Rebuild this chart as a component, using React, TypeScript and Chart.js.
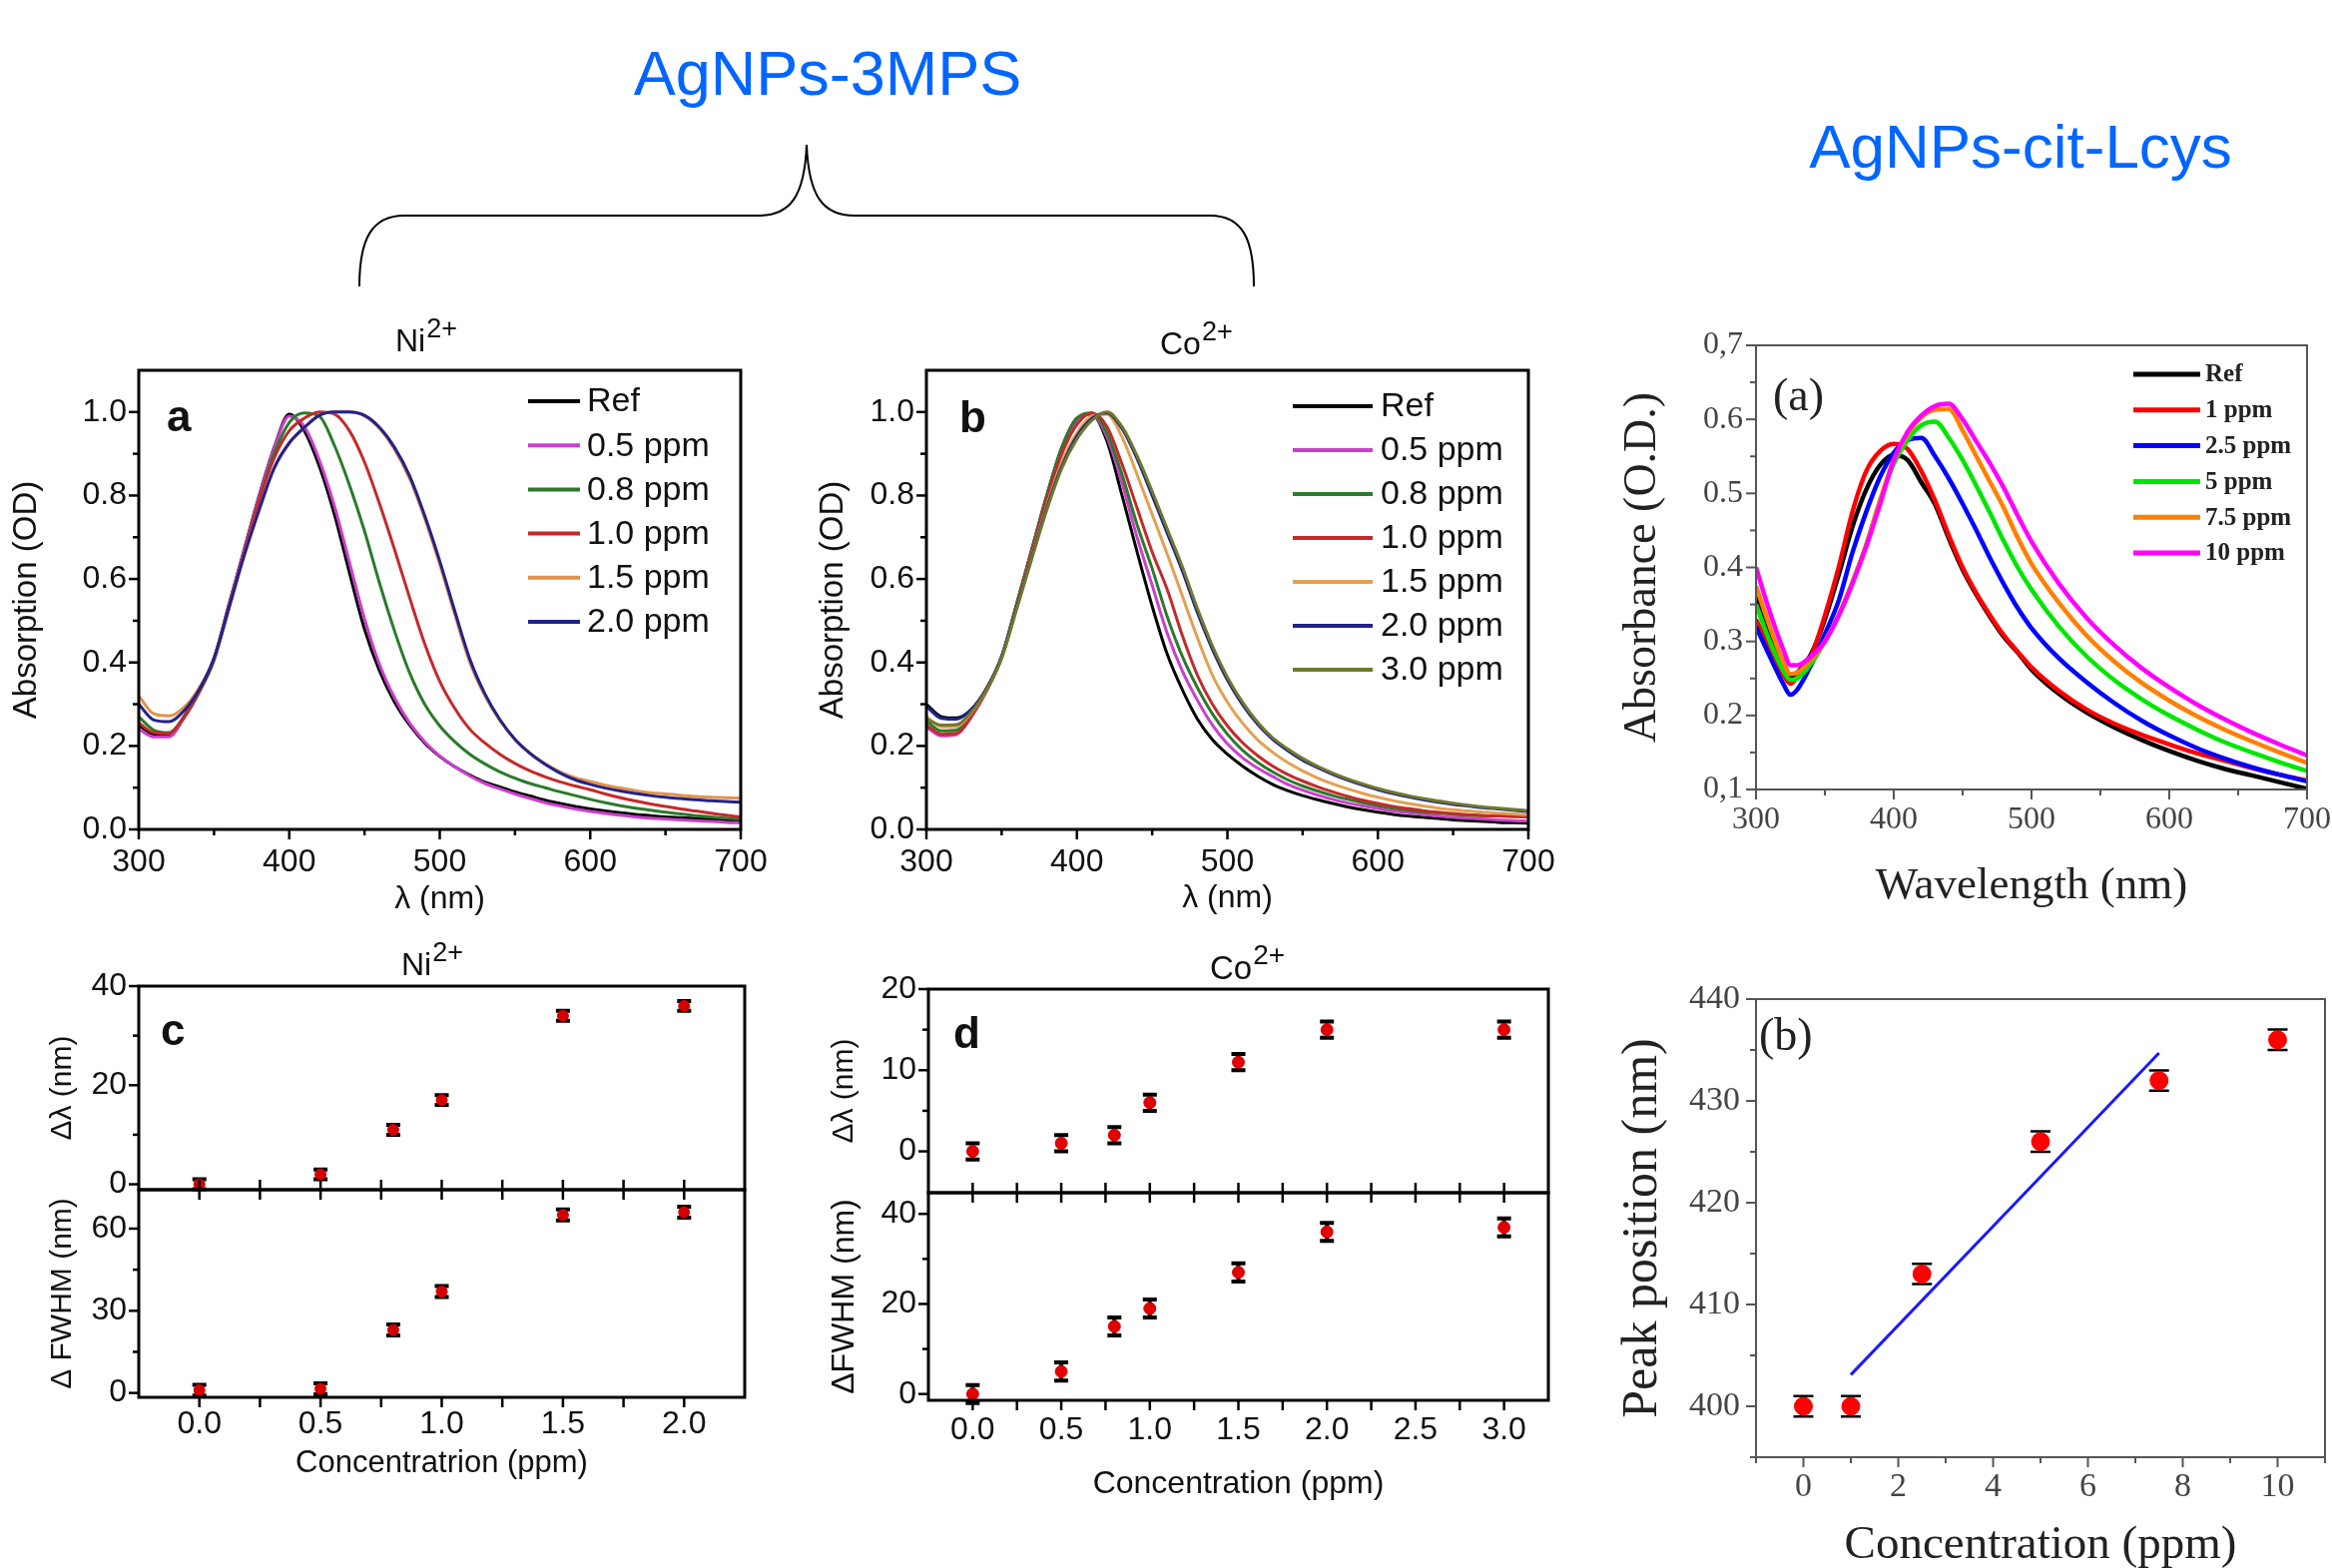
import React, { useEffect, useRef } from 'react';
import { Chart, registerables } from 'chart.js';

Chart.register(...registerables);

const SANS = '"Liberation Sans", Arial, sans-serif';
const SERIF = '"Liberation Serif", "Times New Roman", serif';
Chart.defaults.font.family = SANS;

// ---------------- data: panel a (Ni2+) and b (Co2+) ----------------
const WL = [300, 310, 320, 330, 340, 350, 360, 370, 380, 390, 400, 410, 420, 430, 440, 450, 460, 470, 480, 490, 500,
  510, 520, 530, 540, 550, 560, 570, 580, 590, 600, 610, 620, 630, 640, 650, 660, 670, 680, 690, 700];

const NI_REF = [0.25, 0.228, 0.226, 0.27, 0.33, 0.41, 0.54, 0.67, 0.8, 0.915, 0.995, 0.955, 0.87, 0.755, 0.615, 0.48, 0.38, 0.305, 0.25, 0.207, 0.175,
  0.15, 0.13, 0.113, 0.102, 0.09, 0.08, 0.07, 0.062, 0.055, 0.049, 0.044, 0.04, 0.036, 0.033, 0.03, 0.028, 0.026, 0.024, 0.022, 0.02];
const NI_05 = [0.24, 0.222, 0.222, 0.266, 0.328, 0.408, 0.538, 0.668, 0.798, 0.913, 0.99, 0.965, 0.885, 0.775, 0.64, 0.505, 0.395, 0.315, 0.255, 0.21, 0.176,
  0.15, 0.128, 0.11, 0.097, 0.085, 0.074, 0.064, 0.056, 0.049, 0.043, 0.038, 0.034, 0.03, 0.027, 0.025, 0.023, 0.021, 0.019, 0.017, 0.016];
const NI_08 = [0.27, 0.238, 0.232, 0.268, 0.328, 0.405, 0.532, 0.66, 0.788, 0.9, 0.975, 0.998, 0.99, 0.92, 0.825, 0.715, 0.59, 0.475, 0.375, 0.3, 0.248,
  0.21, 0.18, 0.157, 0.138, 0.123, 0.11, 0.1, 0.09, 0.081, 0.072, 0.064, 0.057, 0.051, 0.046, 0.041, 0.037, 0.033, 0.03, 0.027, 0.025];
const NI_10 = [0.255, 0.232, 0.23, 0.27, 0.33, 0.408, 0.535, 0.662, 0.788, 0.89, 0.955, 0.985, 1.0, 0.995, 0.955, 0.88, 0.78, 0.67, 0.555, 0.445, 0.355,
  0.29, 0.24, 0.207, 0.18, 0.158, 0.14, 0.126, 0.114, 0.104, 0.095, 0.085, 0.076, 0.068, 0.061, 0.055, 0.049, 0.044, 0.039, 0.034, 0.03];
const NI_15 = [0.32, 0.277, 0.272, 0.292, 0.338, 0.41, 0.53, 0.655, 0.765, 0.865, 0.925, 0.962, 0.992, 1.0, 1.0, 0.99, 0.96, 0.91, 0.84, 0.745, 0.635,
  0.515, 0.4, 0.32, 0.26, 0.215, 0.183, 0.158, 0.138, 0.124, 0.115, 0.106, 0.099, 0.093, 0.088, 0.085, 0.082, 0.079, 0.077, 0.076, 0.075];
const NI_20 = [0.3, 0.262, 0.258, 0.284, 0.334, 0.41, 0.532, 0.656, 0.766, 0.866, 0.926, 0.963, 0.992, 1.0, 1.0, 0.992, 0.963, 0.915, 0.847, 0.752, 0.643,
  0.523, 0.408, 0.325, 0.263, 0.216, 0.182, 0.156, 0.135, 0.119, 0.108, 0.099, 0.092, 0.086, 0.081, 0.077, 0.074, 0.071, 0.069, 0.067, 0.065];

const CO_REF = [0.3, 0.27, 0.267, 0.288, 0.338, 0.415, 0.54, 0.67, 0.8, 0.915, 0.985, 0.995, 0.93, 0.8, 0.665, 0.535, 0.42, 0.335, 0.265, 0.215, 0.18,
  0.152, 0.128, 0.108, 0.093, 0.081, 0.071, 0.062, 0.054, 0.047, 0.041, 0.036, 0.032, 0.029, 0.026, 0.023, 0.021, 0.019, 0.017, 0.016, 0.015];
const CO_05 = [0.245, 0.224, 0.227, 0.27, 0.332, 0.412, 0.538, 0.668, 0.798, 0.912, 0.98, 0.995, 0.94, 0.83, 0.7, 0.585, 0.47, 0.38, 0.31, 0.25, 0.205,
  0.172, 0.147, 0.127, 0.108, 0.094, 0.082, 0.072, 0.063, 0.056, 0.05, 0.044, 0.04, 0.036, 0.032, 0.029, 0.027, 0.025, 0.023, 0.021, 0.02];
const CO_08 = [0.26, 0.236, 0.238, 0.276, 0.334, 0.413, 0.54, 0.67, 0.8, 0.915, 0.985, 0.998, 0.95, 0.85, 0.73, 0.625, 0.51, 0.415, 0.34, 0.277, 0.228,
  0.19, 0.161, 0.138, 0.119, 0.104, 0.092, 0.081, 0.072, 0.064, 0.057, 0.051, 0.046, 0.042, 0.039, 0.036, 0.034, 0.033, 0.032, 0.031, 0.03];
const CO_10 = [0.25, 0.228, 0.23, 0.272, 0.332, 0.412, 0.536, 0.664, 0.79, 0.9, 0.97, 0.998, 0.965, 0.875, 0.77, 0.665, 0.575, 0.465, 0.37, 0.3, 0.248,
  0.208, 0.177, 0.152, 0.132, 0.116, 0.102, 0.09, 0.079, 0.07, 0.062, 0.055, 0.05, 0.045, 0.041, 0.038, 0.035, 0.033, 0.032, 0.031, 0.03];
const CO_15 = [0.27, 0.246, 0.247, 0.28, 0.335, 0.412, 0.532, 0.655, 0.775, 0.88, 0.95, 0.99, 0.995, 0.94, 0.85, 0.755, 0.66, 0.56, 0.46, 0.37, 0.305,
  0.255, 0.215, 0.185, 0.16, 0.14, 0.123, 0.109, 0.097, 0.086, 0.077, 0.069, 0.062, 0.056, 0.051, 0.047, 0.044, 0.041, 0.039, 0.037, 0.035];
const CO_20 = [0.295, 0.266, 0.264, 0.288, 0.338, 0.413, 0.532, 0.652, 0.77, 0.87, 0.942, 0.985, 0.998, 0.96, 0.888, 0.8, 0.71, 0.62, 0.52, 0.432, 0.358,
  0.299, 0.252, 0.216, 0.189, 0.166, 0.148, 0.132, 0.118, 0.106, 0.095, 0.086, 0.078, 0.071, 0.065, 0.06, 0.056, 0.052, 0.049, 0.046, 0.043];
const CO_30 = [0.265, 0.25, 0.251, 0.282, 0.335, 0.41, 0.528, 0.648, 0.765, 0.865, 0.935, 0.98, 1.0, 0.965, 0.895, 0.81, 0.72, 0.63, 0.53, 0.44, 0.365,
  0.305, 0.257, 0.22, 0.193, 0.17, 0.151, 0.135, 0.121, 0.109, 0.098, 0.089, 0.081, 0.074, 0.068, 0.063, 0.058, 0.054, 0.051, 0.048, 0.045];

const NI_LABELS = ['Ref', '0.5 ppm', '0.8 ppm', '1.0 ppm', '1.5 ppm', '2.0 ppm'];
const NI_VALUES = [NI_REF, NI_05, NI_08, NI_10, NI_15, NI_20];
const CO_LABELS = ['Ref', '0.5 ppm', '0.8 ppm', '1.0 ppm', '1.5 ppm', '2.0 ppm', '3.0 ppm'];
const CO_VALUES = [CO_REF, CO_05, CO_08, CO_10, CO_15, CO_20, CO_30];

// ---------------- data: AgNPs-cit-Lcys spectra ----------------
const WL_R = [300, 310, 320, 325, 330, 340, 350, 360, 370, 380, 390, 400, 410, 420, 430, 440, 450, 460, 470, 480, 490, 500,
  520, 540, 560, 580, 600, 620, 640, 660, 680, 700];
const LC_REF = [0.36, 0.31, 0.265, 0.252, 0.258, 0.283, 0.33, 0.39, 0.455, 0.505, 0.538, 0.552, 0.545, 0.515, 0.485, 0.439, 0.397, 0.363, 0.333, 0.306, 0.285, 0.262,
  0.229, 0.204, 0.184, 0.167, 0.152, 0.139, 0.128, 0.119, 0.11, 0.101];
const LC_1 = [0.33, 0.29, 0.255, 0.243, 0.252, 0.28, 0.335, 0.4, 0.475, 0.53, 0.557, 0.567, 0.56, 0.53, 0.49, 0.443, 0.4, 0.365, 0.335, 0.308, 0.286, 0.265,
  0.233, 0.208, 0.189, 0.174, 0.161, 0.149, 0.139, 0.129, 0.12, 0.112];
const LC_25 = [0.32, 0.28, 0.242, 0.228, 0.235, 0.268, 0.31, 0.355, 0.42, 0.475, 0.522, 0.555, 0.572, 0.575, 0.55, 0.52, 0.486, 0.45, 0.412, 0.377, 0.345, 0.318,
  0.277, 0.245, 0.217, 0.193, 0.173, 0.156, 0.142, 0.13, 0.12, 0.111];
const LC_5 = [0.35, 0.3, 0.26, 0.248, 0.25, 0.27, 0.3, 0.335, 0.38, 0.43, 0.49, 0.54, 0.572, 0.592, 0.597, 0.575, 0.545, 0.51, 0.473, 0.435, 0.4, 0.37,
  0.32, 0.28, 0.248, 0.222, 0.2, 0.181, 0.164, 0.15, 0.137, 0.125];
const LC_75 = [0.375, 0.32, 0.272, 0.256, 0.258, 0.275, 0.3, 0.335, 0.38, 0.43, 0.49, 0.545, 0.58, 0.603, 0.613, 0.614, 0.585, 0.55, 0.515, 0.48, 0.44, 0.405,
  0.352, 0.308, 0.273, 0.244, 0.22, 0.199, 0.181, 0.165, 0.15, 0.136];
const LC_10 = [0.4, 0.34, 0.288, 0.268, 0.268, 0.28, 0.3, 0.335, 0.378, 0.428, 0.485, 0.545, 0.583, 0.605, 0.618, 0.621, 0.6, 0.57, 0.54, 0.507, 0.47, 0.435,
  0.378, 0.332, 0.295, 0.264, 0.238, 0.215, 0.195, 0.177, 0.161, 0.146];
const LC_LABELS = ['Ref', '1 ppm', '2.5 ppm', '5 ppm', '7.5 ppm', '10 ppm'];
const LC_VALUES = [LC_REF, LC_1, LC_25, LC_5, LC_75, LC_10];

// ---------------- data: shifts vs concentration ----------------
const CONC_NI = [0, 0.5, 0.8, 1.0, 1.5, 2.0];
const DL_NI = [0, 2, 11, 17, 34, 36];
const DL_NI_ERR = [1, 1, 1, 1, 1, 1];
const FW_NI = [1, 1.5, 23, 37, 65, 66];
const FW_NI_ERR = [2, 2, 2, 2, 2, 2];

const CONC_CO = [0, 0.5, 0.8, 1.0, 1.5, 2.0, 3.0];
const DL_CO = [0, 1, 2, 6, 11, 15, 15];
const DL_CO_ERR = [1, 1, 1, 1, 1, 1, 1];
const FW_CO = [0, 5, 15, 19, 27, 36, 37];
const FW_CO_ERR = [2, 2, 2, 2, 2, 2, 2];

const CONC_LC = [0, 1, 2.5, 5, 7.5, 10];
const PEAK_LC = [400, 400, 413, 426, 432, 436];
const PEAK_LC_ERR = [1, 1, 1, 1, 1, 1];
const FIT_X = [1, 7.5];
const FIT_Y = [403.1, 434.7];

// ---------------- ticks ----------------
const A_XT = [300, 400, 500, 600, 700];
const A_XL = ['300', '400', '500', '600', '700'];
const A_XM = [350, 450, 550, 650];
const A_YT = [0, 0.2, 0.4, 0.6, 0.8, 1.0];
const A_YL = ['0.0', '0.2', '0.4', '0.6', '0.8', '1.0'];
const A_YM = [0.1, 0.3, 0.5, 0.7, 0.9];

const RA_YT = [0.1, 0.2, 0.3, 0.4, 0.5, 0.6, 0.7];
const RA_YL = ['0,1', '0.2', '0.3', '0.4', '0.5', '0.6', '0,7'];
const RA_YM = [0.15, 0.25, 0.35, 0.45, 0.55, 0.65];

const RB_XT = [0, 2, 4, 6, 8, 10];
const RB_XL = ['0', '2', '4', '6', '8', '10'];
const RB_XM = [-1, 1, 3, 5, 7, 9, 11];
const RB_YT = [400, 410, 420, 430, 440];
const RB_YL = ['400', '410', '420', '430', '440'];
const RB_YM = [395, 405, 415, 425, 435];

const C_XT = [0, 0.5, 1.0, 1.5, 2.0];
const C_XL = ['0.0', '0.5', '1.0', '1.5', '2.0'];
const C_XM = [0.25, 0.75, 1.25, 1.75];
const C_Y1T = [0, 20, 40];
const C_Y1L = ['0', '20', '40'];
const C_Y1M = [10, 30];
const C_Y2T = [0, 30, 60];
const C_Y2L = ['0', '30', '60'];
const C_Y2M = [15, 45];

const D_XT = [0, 0.5, 1.0, 1.5, 2.0, 2.5, 3.0];
const D_XL = ['0.0', '0.5', '1.0', '1.5', '2.0', '2.5', '3.0'];
const D_XM = [0.25, 0.75, 1.25, 1.75, 2.25, 2.75];
const D_Y1T = [0, 10, 20];
const D_Y1L = ['0', '10', '20'];
const D_Y1M = [5, 15];
const D_Y2T = [0, 20, 40];
const D_Y2L = ['0', '20', '40'];
const D_Y2M = [10, 30];

// ---------------- styles ----------------
const NI_COLORS = ['#000000', '#cc3fcc', '#2b7a2b', '#c42a2a', '#e3924a', '#22228c'];
const CO_COLORS = ['#000000', '#cc3fcc', '#2b7a2b', '#c42a2a', '#e3a050', '#22228c', '#6e7a2c'];
const LC_COLORS = ['#000000', '#ff0000', '#0000ff', '#00e600', '#ff8000', '#ff00ff'];

// ---------------- helpers ----------------
const xy = (xs: number[], ys: number[]) => xs.map((x, i) => ({ x, y: ys[i] }));

function lineSet(label: string, xs: number[], ys: number[], color: string, width: number) {
  return {
    label, data: xy(xs, ys), showLine: true, borderColor: color, backgroundColor: color,
    borderWidth: width, pointRadius: 0, pointHoverRadius: 0, cubicInterpolationMode: 'monotone', fill: false,
  };
}
function pointSet(label: string, xs: number[], ys: number[], errs: number[], color: string, r: number, errWidth: number, cap: number) {
  return {
    label, data: xy(xs, ys), showLine: false, pointRadius: r, pointHoverRadius: r,
    pointBackgroundColor: color, pointBorderColor: color, pointBorderWidth: 1,
    errs, errColor: '#000', errWidth, errCap: cap,
  };
}

function axisOpts(a: any, isX: boolean, fit: number) {
  return {
    type: 'linear', position: isX ? 'bottom' : 'left', min: a.min, max: a.max,
    afterBuildTicks: (s: any) => { s.ticks = a.ticks.map((v: number) => ({ value: v })); },
    afterFit: (s: any) => {
      if (isX) s.height = fit; else s.width = fit;
      s.paddingLeft = 0; s.paddingRight = 0; s.paddingTop = 0; s.paddingBottom = 0;
    },
    ticks: {
      display: !!a.labels, autoSkip: false, maxRotation: 0, minRotation: 0, padding: a.pad || 0,
      font: a.font, color: a.color, callback: (_v: any, i: number) => (a.labels ? a.labels[i] : ''),
    },
    grid: { display: false, drawTicks: false },
    border: { display: false },
    title: a.title
      ? { display: true, text: a.title, font: a.titleFont, color: a.titleColor || a.color, padding: a.titlePad }
      : { display: false },
  };
}

function drawTickMarks(ctx: any, s: any, a: any, isX: boolean, ca: any) {
  ctx.strokeStyle = a.tickColor; ctx.lineWidth = a.tickWidth;
  const list: any[] = [];
  a.ticks.forEach((v: number) => list.push([v, a.len]));
  (a.minor || []).forEach((v: number) => list.push([v, a.minorLen]));
  for (const [v, L] of list) {
    const p = s.getPixelForValue(v);
    ctx.beginPath();
    if (isX) {
      const y0 = ca.bottom;
      ctx.moveTo(p, a.cross ? y0 - L : y0); ctx.lineTo(p, y0 + L);
    } else {
      const x0 = ca.left;
      ctx.moveTo(x0 - L, p); ctx.lineTo(x0, p);
    }
    ctx.stroke();
  }
}

function decorPlugin(sp: any) {
  const ox = sp.canvas.x; const oy = sp.canvas.y;
  return {
    id: 'decor',
    beforeDatasetsDraw(chart: any) {
      const ctx = chart.ctx; const xs = chart.scales.x; const ys = chart.scales.y;
      chart.data.datasets.forEach((ds: any) => {
        if (!ds.errs) return;
        ctx.save();
        ctx.strokeStyle = ds.errColor; ctx.lineWidth = ds.errWidth;
        ds.data.forEach((p: any, i: number) => {
          const x = xs.getPixelForValue(p.x);
          const y1 = ys.getPixelForValue(p.y + ds.errs[i]);
          const y2 = ys.getPixelForValue(p.y - ds.errs[i]);
          ctx.beginPath();
          ctx.moveTo(x, y1); ctx.lineTo(x, y2);
          ctx.moveTo(x - ds.errCap, y1); ctx.lineTo(x + ds.errCap, y1);
          ctx.moveTo(x - ds.errCap, y2); ctx.lineTo(x + ds.errCap, y2);
          ctx.stroke();
        });
        ctx.restore();
      });
    },
    afterDraw(chart: any) {
      const ctx = chart.ctx; const ca = chart.chartArea;
      ctx.save();
      drawTickMarks(ctx, chart.scales.x, sp.x, true, ca);
      drawTickMarks(ctx, chart.scales.y, sp.y, false, ca);
      ctx.strokeStyle = sp.frame.color; ctx.lineWidth = sp.frame.width;
      ctx.strokeRect(ca.left, ca.top, ca.right - ca.left, ca.bottom - ca.top);
      if (sp.legend) {
        const L = sp.legend;
        chart.data.datasets.forEach((ds: any, i: number) => {
          const y = L.y0 + i * L.dy - oy;
          const x0 = L.x0 - ox;
          ctx.strokeStyle = ds.borderColor; ctx.lineWidth = L.lineWidth;
          ctx.beginPath(); ctx.moveTo(x0, y); ctx.lineTo(x0 + L.lineLen, y); ctx.stroke();
          ctx.fillStyle = L.color; ctx.font = L.font; ctx.textAlign = 'left'; ctx.textBaseline = 'middle';
          ctx.fillText(ds.label, x0 + L.lineLen + L.gap, y + 1);
        });
      }
      for (const t of sp.texts || []) {
        ctx.fillStyle = t.color || '#111';
        ctx.font = t.font; ctx.textAlign = 'left'; ctx.textBaseline = 'alphabetic';
        ctx.fillText(t.text, t.x - ox, t.y - oy);
        if (t.sup) {
          const w = ctx.measureText(t.text).width;
          ctx.font = t.supFont;
          ctx.fillText(t.sup, t.x - ox + w + 1, t.y - oy - t.supRise);
        }
      }
      ctx.restore();
    },
  };
}

function buildConfig(sp: any): any {
  const cv = sp.canvas; const area = sp.area;
  const n = sp.datasets.length;
  const datasets = sp.datasets.map((d: any, i: number) => ({ ...d, order: n - 1 - i }));
  return {
    type: 'scatter',
    data: { datasets },
    options: {
      responsive: false, animation: false, devicePixelRatio: 1, events: [],
      layout: { padding: { left: 0, bottom: 0, top: area.t - cv.y, right: cv.x + cv.w - area.r } },
      plugins: { legend: { display: false }, tooltip: { enabled: false }, title: { display: false } },
      scales: {
        x: axisOpts(sp.x, true, cv.y + cv.h - area.b),
        y: axisOpts(sp.y, false, area.l - cv.x),
      },
    },
    plugins: [decorPlugin(sp)],
  };
}

// ---------------- panel specs ----------------
const sansAxis = (o: any) => ({
  len: 10, minorLen: 6, tickColor: '#000', tickWidth: 2.5, font: { family: SANS, size: 32 }, color: '#111', ...o,
});
const serifAxis = (o: any) => ({
  len: 10, minorLen: 6, tickColor: '#555', tickWidth: 2, font: { family: SERIF, size: 32 }, color: '#444', titleColor: '#222', ...o,
});

const supText = (text: string, sup: string, x: number, y: number, size: number) => ({
  text, sup, x, y, font: `${size}px ${SANS}`, supFont: `${Math.round(size * 0.85)}px ${SANS}`, supRise: Math.round(size * 0.45),
});

const SPEC_A = {
  canvas: { x: 0, y: 290, w: 800, h: 650 },
  area: { l: 139, t: 371, r: 742, b: 831 },
  frame: { color: '#000', width: 3 },
  x: sansAxis({ min: 300, max: 700, ticks: A_XT, labels: A_XL, minor: A_XM, pad: 14, title: 'λ (nm)', titleFont: { family: SANS, size: 32 }, titlePad: { top: 0, bottom: 20 } }),
  y: sansAxis({ min: 0, max: 1.1, ticks: A_YT, labels: A_YL, minor: A_YM, pad: 12, title: 'Absorption (OD)', titleFont: { family: SANS, size: 33 }, titlePad: { top: 7, bottom: 0 } }),
  datasets: NI_VALUES.map((v, i) => lineSet(NI_LABELS[i], WL, v, NI_COLORS[i], 3)),
  legend: { x0: 529, lineLen: 52, gap: 7, y0: 402, dy: 44.2, font: `34px ${SANS}`, color: '#111', lineWidth: 4 },
  texts: [
    { text: 'a', x: 167, y: 432, font: `bold 44px ${SANS}` },
    supText('Ni', '2+', 396, 352, 32),
  ],
};

const SPEC_B = {
  canvas: { x: 800, y: 290, w: 800, h: 650 },
  area: { l: 928, t: 371, r: 1531, b: 831 },
  frame: { color: '#000', width: 3 },
  x: sansAxis({ min: 300, max: 700, ticks: A_XT, labels: A_XL, minor: A_XM, pad: 14, title: 'λ (nm)', titleFont: { family: SANS, size: 32 }, titlePad: { top: 0, bottom: 21 } }),
  y: sansAxis({ min: 0, max: 1.1, ticks: A_YT, labels: A_YL, minor: A_YM, pad: 12, title: 'Absorption (OD)', titleFont: { family: SANS, size: 33 }, titlePad: { top: 15, bottom: 0 } }),
  datasets: CO_VALUES.map((v, i) => lineSet(CO_LABELS[i], WL, v, CO_COLORS[i], 3)),
  legend: { x0: 1295, lineLen: 80, gap: 8, y0: 407, dy: 44, font: `34px ${SANS}`, color: '#111', lineWidth: 4 },
  texts: [
    { text: 'b', x: 961, y: 433, font: `bold 44px ${SANS}` },
    supText('Co', '2+', 1162, 355, 32),
  ],
};

const SPEC_RA = {
  canvas: { x: 1600, y: 300, w: 760, h: 640 },
  area: { l: 1759, t: 346, r: 2311, b: 791 },
  frame: { color: '#555', width: 2 },
  x: serifAxis({ min: 300, max: 700, ticks: A_XT, labels: A_XL, minor: A_XM, pad: 11, title: 'Wavelength (nm)', titleFont: { family: SERIF, size: 45 }, titlePad: { top: 0, bottom: 25 } }),
  y: serifAxis({ min: 0.1, max: 0.7, ticks: RA_YT, labels: RA_YL, minor: RA_YM, pad: 13, title: 'Absorbance (O.D.)', titleFont: { family: SERIF, size: 46 }, titlePad: { top: 18, bottom: 0 } }),
  datasets: LC_VALUES.map((v, i) => lineSet(LC_LABELS[i], WL_R, v, LC_COLORS[i], 4.5)),
  legend: { x0: 2137, lineLen: 67, gap: 5, y0: 375, dy: 35.8, font: `bold 25px ${SERIF}`, color: '#222', lineWidth: 5 },
  texts: [{ text: '(a)', x: 1776, y: 411, font: `46px ${SERIF}`, color: '#222' }],
};

const SPEC_RB = {
  canvas: { x: 1600, y: 960, w: 760, h: 611 },
  area: { l: 1759, t: 1001, r: 2329, b: 1460 },
  frame: { color: '#555', width: 2 },
  x: serifAxis({ min: -1, max: 11, ticks: RB_XT, labels: RB_XL, minor: RB_XM, pad: 10, font: { family: SERIF, size: 34 }, title: 'Concentration (ppm)', titleFont: { family: SERIF, size: 47, lineHeight: 1 }, titlePad: { top: 0, bottom: -1 } }),
  y: serifAxis({ min: 395, max: 440, ticks: RB_YT, labels: RB_YL, minor: RB_YM, pad: 16, font: { family: SERIF, size: 34 }, title: 'Peak position (nm)', titleFont: { family: SERIF, size: 50 }, titlePad: { top: 16, bottom: 0 } }),
  datasets: [
    pointSet('Peak position', CONC_LC, PEAK_LC, PEAK_LC_ERR, '#ff0000', 9, 2.5, 10),
    lineSet('Linear fit', FIT_X, FIT_Y, '#1a1aff', 3),
  ],
  texts: [{ text: '(b)', x: 1762, y: 1052, font: `46px ${SERIF}`, color: '#222' }],
};

const SPEC_C1 = {
  canvas: { x: 0, y: 930, w: 800, h: 302 },
  area: { l: 139, t: 988, r: 746, b: 1192 },
  frame: { color: '#000', width: 3 },
  x: sansAxis({ min: -0.25, max: 2.25, ticks: C_XT, labels: null, minor: C_XM, minorLen: 10, cross: true }),
  y: sansAxis({ min: -1.1, max: 40, ticks: C_Y1T, labels: C_Y1L, minor: C_Y1M, pad: 12, title: 'Δλ (nm)', titleFont: { family: SANS, size: 30 }, titlePad: { top: 45, bottom: 0 } }),
  datasets: [pointSet('Δλ', CONC_NI, DL_NI, DL_NI_ERR, '#d40000', 5.5, 4, 7)],
  texts: [
    { text: 'c', x: 161, y: 1047, font: `bold 44px ${SANS}` },
    supText('Ni', '2+', 402, 977, 32),
  ],
};

const SPEC_C2 = {
  canvas: { x: 0, y: 1150, w: 800, h: 350 },
  area: { l: 139, t: 1192, r: 746, b: 1400 },
  frame: { color: '#000', width: 3 },
  x: sansAxis({ min: -0.25, max: 2.25, ticks: C_XT, labels: C_XL, minor: C_XM, minorLen: 10, pad: 8, title: 'Concentratrion (ppm)', titleFont: { family: SANS, size: 31 }, titlePad: { top: 0, bottom: 15 } }),
  y: sansAxis({ min: -1.6, max: 74.2, ticks: C_Y2T, labels: C_Y2L, minor: C_Y2M, pad: 12, title: 'Δ FWHM (nm)', titleFont: { family: SANS, size: 30 }, titlePad: { top: 45, bottom: 0 } }),
  datasets: [pointSet('ΔFWHM', CONC_NI, FW_NI, FW_NI_ERR, '#d40000', 5.5, 4, 7)],
  texts: [],
};

const SPEC_D1 = {
  canvas: { x: 800, y: 930, w: 800, h: 305 },
  area: { l: 930, t: 991, r: 1551, b: 1195 },
  frame: { color: '#000', width: 3 },
  x: sansAxis({ min: -0.25, max: 3.25, ticks: D_XT, labels: null, minor: D_XM, minorLen: 10, cross: true }),
  y: sansAxis({ min: -5.1, max: 20, ticks: D_Y1T, labels: D_Y1L, minor: D_Y1M, pad: 12, title: 'Δλ (nm)', titleFont: { family: SANS, size: 30 }, titlePad: { top: 28, bottom: 0 } }),
  datasets: [pointSet('Δλ', CONC_CO, DL_CO, DL_CO_ERR, '#e00000', 6, 4, 7)],
  texts: [
    { text: 'd', x: 955, y: 1050, font: `bold 44px ${SANS}` },
    supText('Co', '2+', 1212, 981, 33),
  ],
};

const SPEC_D2 = {
  canvas: { x: 800, y: 1155, w: 800, h: 375 },
  area: { l: 930, t: 1195, r: 1551, b: 1403 },
  frame: { color: '#000', width: 3 },
  x: sansAxis({ min: -0.25, max: 3.25, ticks: D_XT, labels: D_XL, minor: D_XM, minorLen: 10, pad: 11, title: 'Concentration (ppm)', titleFont: { family: SANS, size: 32 }, titlePad: { top: 0, bottom: 24 } }),
  y: sansAxis({ min: -1.4, max: 44.7, ticks: D_Y2T, labels: D_Y2L, minor: D_Y2M, pad: 12, title: 'ΔFWHM (nm)', titleFont: { family: SANS, size: 32 }, titlePad: { top: 27, bottom: 0 } }),
  datasets: [pointSet('ΔFWHM', CONC_CO, FW_CO, FW_CO_ERR, '#e00000', 6, 4, 7)],
  texts: [],
};

const SPECS = [SPEC_A, SPEC_B, SPEC_RA, SPEC_RB, SPEC_C1, SPEC_C2, SPEC_D1, SPEC_D2];

function Panel({ spec }: { spec: any }) {
  const ref = useRef<HTMLCanvasElement>(null);
  useEffect(() => {
    const c = ref.current;
    if (!c) return;
    const chart = new Chart(c, buildConfig(spec));
    return () => chart.destroy();
  }, [spec]);
  const { x, y, w, h } = spec.canvas;
  return (
    <canvas ref={ref} width={w} height={h}
      style={{ position: 'absolute', left: x, top: y, width: w, height: h }} />
  );
}

export default function App() {
  return (
    <div style={{ position: 'absolute', left: 0, top: 0, width: 2336, height: 1571, overflow: 'hidden', background: '#ffffff' }}>
      <svg width={2336} height={1571} style={{ position: 'absolute', left: 0, top: 0 }}>
        <text x={829} y={95} textAnchor="middle" fontFamily={SANS} fontSize={63} fill="#0066ff">AgNPs-3MPS</text>
        <text x={2024} y={168} textAnchor="middle" fontFamily={SANS} fontSize={62} fill="#0066ff">AgNPs-cit-Lcys</text>
        <path d="M 360 287 C 360 240 372 216 405 216 L 760 216 C 792 216 806 196 808 145 C 810 196 824 216 856 216 L 1212 216 C 1245 216 1256 240 1256 287"
          fill="none" stroke="#000" strokeWidth={2} />
      </svg>
      {SPECS.map((s, i) => <Panel key={i} spec={s} />)}
    </div>
  );
}
